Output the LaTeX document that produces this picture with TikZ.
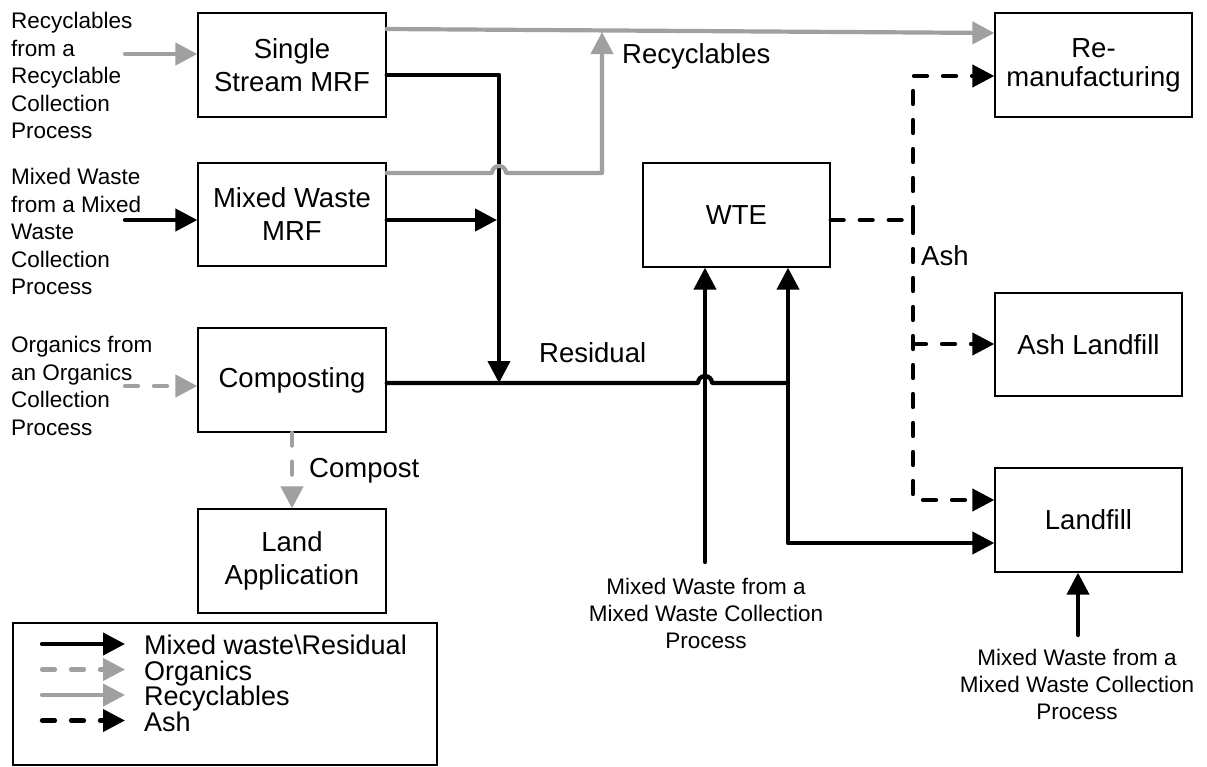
\documentclass[tikz,border=0pt]{standalone}
\usepackage{fontspec}
\setmainfont{Liberation Sans}
\usetikzlibrary{arrows.meta}
\definecolor{recgray}{RGB}{160,160,160}
\begin{document}
\begin{tikzpicture}[x=1pt,y=-1pt,
  box/.style={draw, line width=1.3pt, align=center, font=\fontsize{27.5}{33}\selectfont, inner sep=0pt},
  flow/.style={line width=4.2pt, line cap=round, line join=round},
  tip/.style={-{Triangle[length=22pt,width=22pt]}},
  mix/.style={flow, draw=black},
  rec/.style={flow, draw=recgray, fill=none},
  org/.style={flow, draw=recgray, dash pattern=on 13pt off 16pt},
  ashs/.style={flow, draw=black, dash pattern=on 13pt off 16pt},
  side/.style={align=left, font=\fontsize{22.5}{27.5}\selectfont, inner sep=0pt, anchor=north west},
  bot/.style={align=center, font=\fontsize{22.5}{27}\selectfont, inner sep=0pt, anchor=north},
  lbl/.style={font=\fontsize{27.5}{33}\selectfont, inner sep=0pt, anchor=base west},
  leg/.style={font=\fontsize{27}{33}\selectfont, inner sep=0pt, anchor=base west},
]
\useasboundingbox (0,0) rectangle (1207,766);

% boxes
\node[box, minimum width=188pt, minimum height=104pt] (ss) at (292,65) {Single\\Stream MRF};
\node[box, minimum width=188pt, minimum height=103pt] (mw) at (292,214.5) {Mixed Waste\\MRF};
\node[box, minimum width=188pt, minimum height=104pt] (comp) at (292,380) {Composting};
\node[box, minimum width=188pt, minimum height=104pt] (land) at (292,561) {Land\\Application};
\node[box, minimum width=187pt, minimum height=104pt] (wte) at (736.5,215) {WTE};
\node[box, minimum width=197pt, minimum height=104pt, font=\fontsize{27.5}{29}\selectfont] (reman) at (1093.5,65) {Re-\\manufacturing};
\node[box, minimum width=187pt, minimum height=103pt] (ashl) at (1088.5,344.5) {Ash Landfill};
\node[box, minimum width=187pt, minimum height=104pt] (landf) at (1088.5,520) {Landfill};

% side labels
\node[side] (s1) at (11,12) {Recyclables\\from a\\Recyclable\\Collection\\Process};
\node[side] (s2) at (11,168) {Mixed Waste\\from a Mixed\\Waste\\Collection\\Process};
\node[side] (s3) at (11,336) {Organics from\\an Organics\\Collection\\Process};
\node[bot] (bt1) at (706,578) {Mixed Waste from a\\Mixed Waste Collection\\Process};
\node[bot] (bt2) at (1077,649) {Mixed Waste from a\\Mixed Waste Collection\\Process};

% flow labels
\node[lbl] (lrec) at (622,63) {Recyclables};
\node[lbl] (lres) at (539,362) {Residual};
\node[lbl] (lcomp) at (309,477) {Compost};
\node[lbl] (lash) at (921,265) {Ash};

% coordinates
\coordinate (in1) at (125,54);
\coordinate (in2) at (125,220);
\coordinate (in3) at (125,386);
\coordinate (j0) at (497,220);
\coordinate (j1) at (499,383);
\coordinate (j2) at (788,383);
\coordinate (j3) at (788,543);
\coordinate (rtop) at (602,32);
\coordinate (b1) at (705,562);
\coordinate (b2) at (1078,635);
\coordinate (aj) at (913,220);
\coordinate (aj2) at (913,344);

% inputs
\draw[rec,tip] (in1) -- (in1 -| ss.west);
\draw[mix,tip] (in2) -- (in2 -| mw.west);
\draw[org,tip] (in3) -- (in3 -| comp.west);

% mixed waste / residual
\draw[mix,tip] (ss.east |- 0,75) -| (j1);
\draw[mix,tip] (mw.east |- j0) -- (j0);
\draw[mix] (comp.east |- j1) -- (698,383) arc[start angle=180,end angle=0,radius=7pt] -- (j2);
\draw[mix,tip] (j2) -- (j2 |- wte.south);
\draw[mix,tip] (j2) -- (j3) -- (j3 -| landf.west);
\draw[mix,tip] (b1) -- (b1 |- wte.south);
\draw[mix,tip] (b2) -- (b2 |- landf.south);

% recyclables
\draw[rec,tip] (ss.east |- 0,29) -- (reman.west |- 0,33);
\draw[rec,tip] (mw.east |- 0,173) -- (492,173) arc[start angle=180,end angle=0,radius=7pt] -- (602,173) -- (rtop);

% compost
\draw[org,tip] (comp.south) -- (land.north);

% ash
\draw[ashs] (wte.east |- aj) -- (aj);
\draw[ashs,tip] (aj) |- (reman.west |- 0,76);
\draw[ashs,tip] (aj) |- (landf.west |- 0,500);
\draw[ashs,tip] (aj2) -- (ashl.west |- aj2);

% legend
\node[draw, line width=1.3pt, minimum width=424pt, minimum height=142pt, inner sep=0pt] (legend) at (225,694) {};
\coordinate (la1) at (42,644);   \coordinate (lb1) at (125,644);
\coordinate (la2) at (42,669.5); \coordinate (lb2) at (125,669.5);
\coordinate (la3) at (42,695);   \coordinate (lb3) at (125,695);
\coordinate (la4) at (42,720.5); \coordinate (lb4) at (125,720.5);
\draw[mix,tip] (la1) -- (lb1);
\draw[org,tip] (la2) -- (lb2);
\draw[rec,tip] (la3) -- (lb3);
\draw[ashs,tip] (la4) -- (lb4);
\node[leg] (t1) at (144,654) {Mixed waste\textbackslash Residual};
\node[leg] (t2) at (144,680) {Organics};
\node[leg] (t3) at (144,705.5) {Recyclables};
\node[leg] (t4) at (144,731) {Ash};
\end{tikzpicture}
\end{document}
